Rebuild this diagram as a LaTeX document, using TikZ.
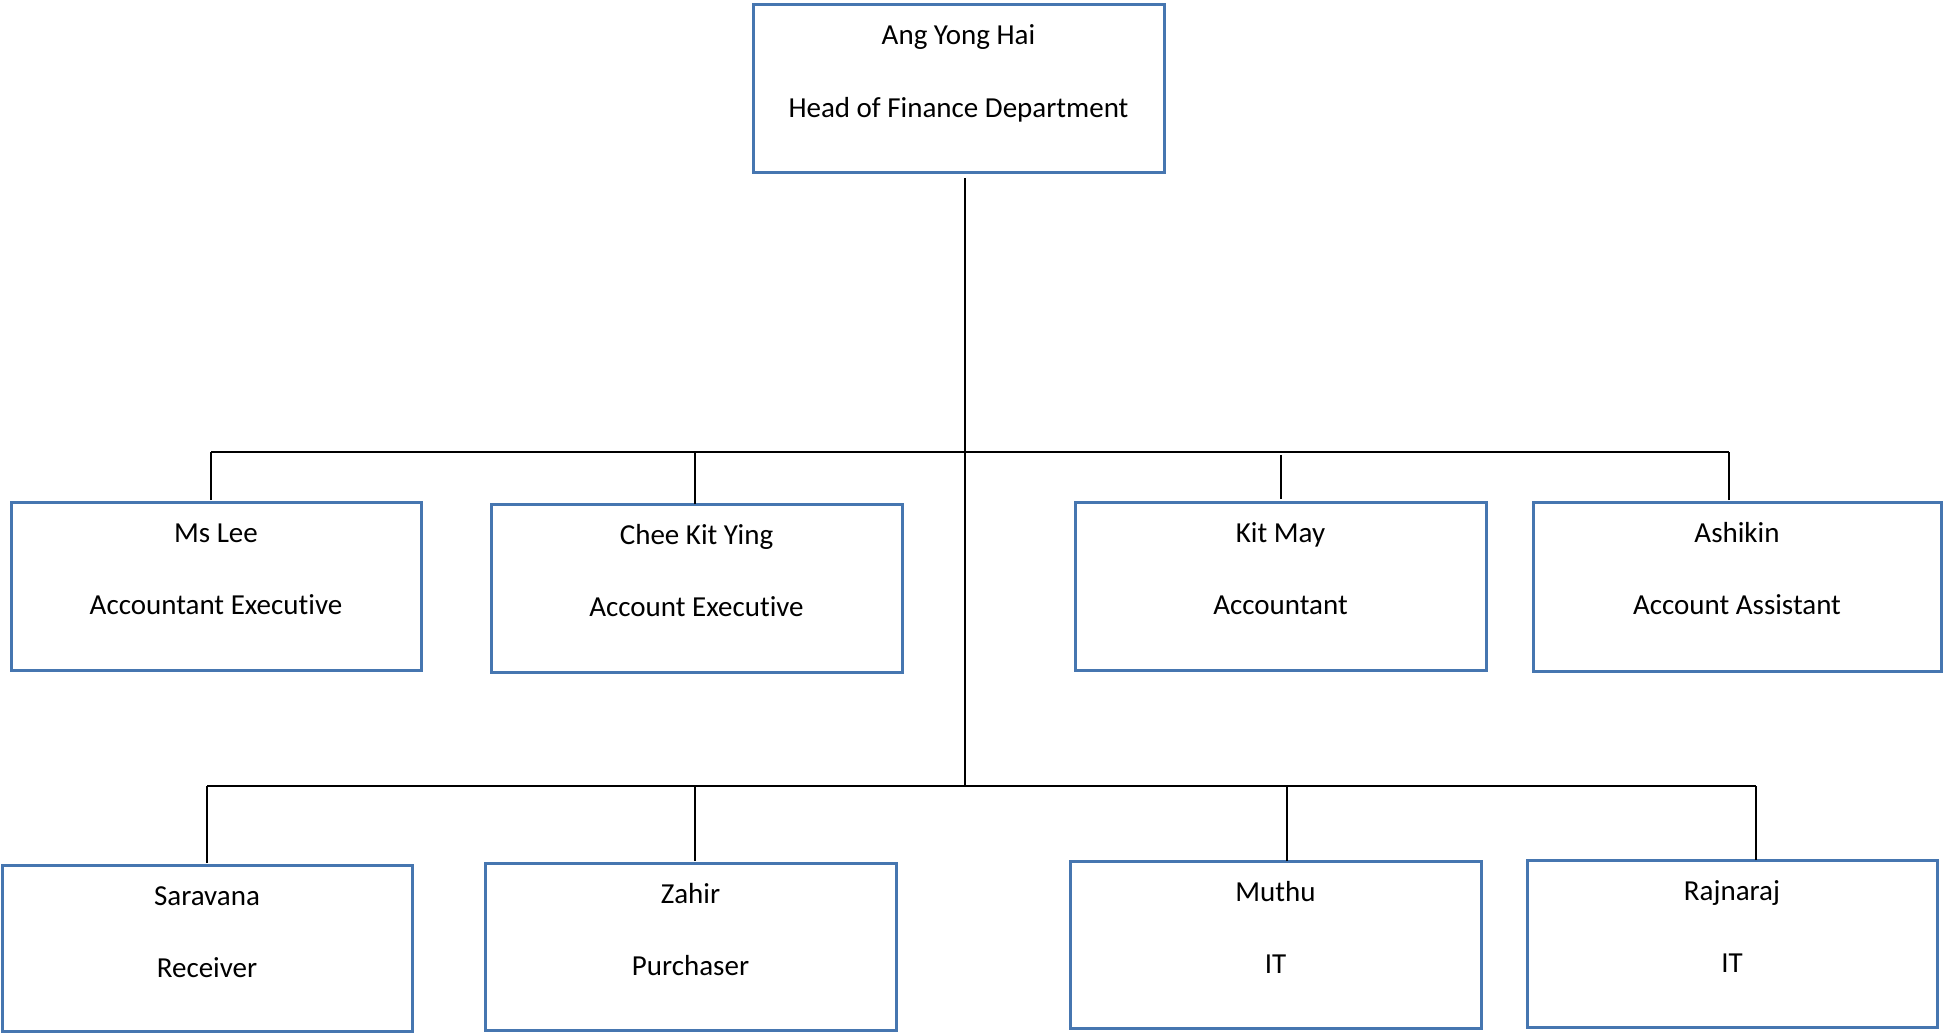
\documentclass[tikz,border=0pt]{standalone}
\usepackage{fontspec}
\setmainfont{Carlito}[Ligatures={NoCommon,NoContextual},Contextuals=NoAlternate]
\definecolor{boxblue}{RGB}{70,118,176}
\newcommand\orgunit[7]{%
  \node[unitbox, minimum width=#4, minimum height=#5] (#1) at (#2,#3) {};
  \node[unittext, anchor=base] (#1-a) at ([yshift=-40]#1.north) {#6};
  \node[unittext, anchor=base] (#1-b) at ([yshift=-112]#1.north) {#7};
}
\begin{document}
\begin{tikzpicture}[x=1pt, y=-1pt,
  unitbox/.style={draw=boxblue, line width=3pt, rectangle, inner sep=0pt, outer sep=0pt, fill=white},
  unittext/.style={inner sep=0pt, outer sep=0pt, font=\fontsize{29}{35}\selectfont, text=black},
  link/.style={draw=black, line width=1.6pt}]
\useasboundingbox (0,0) rectangle (1943,1033);
\fill[white] (0,0) rectangle (1943,1033);

\orgunit{top}{958.5}{88.5}{411}{167}{Ang Yong Hai}{Head of Finance Department}
\orgunit{lee}{216}{586}{410}{168}{Ms Lee}{Accountant Executive}
\orgunit{chee}{696.5}{588}{411}{168}{Chee Kit Ying}{Account Executive}
\orgunit{kit}{1280.5}{586}{411}{168}{Kit May}{Accountant}
\orgunit{ash}{1737}{586.5}{408}{169}{Ashikin}{Account Assistant}
\orgunit{sara}{207}{948}{410}{166}{Saravana}{Receiver}
\orgunit{zahir}{690.5}{946.5}{411}{167}{Zahir}{Purchaser}
\orgunit{muthu}{1275.5}{944.5}{411}{167}{Muthu}{IT}
\orgunit{raj}{1732}{943.5}{410}{167}{Rajnaraj}{IT}

% junctions
\coordinate (j1) at (965,452);
\coordinate (j2) at (965,786);
\coordinate (topout) at (965,178);

% trunk
\draw[link] (topout) -- (j2);

% level 1 bar and drops
\coordinate (leeup) at (211,500);
\coordinate (ashup) at (1729,500);
\coordinate (cheeup) at (695,504);
\coordinate (kitup) at (1281,499);
\draw[link] (leeup |- j1) -- (ashup |- j1);
\draw[link] (leeup) -- (leeup |- j1);
\draw[link] (cheeup) -- (cheeup |- j1);
\draw[link] (kitup) -- ([yshift=-3]kitup |- j1);
\draw[link] (ashup) -- (ashup |- j1);

% level 2 bar and drops
\coordinate (saraup) at (207,863);
\coordinate (zahirup) at (695,861);
\coordinate (muthuup) at (1287,861);
\coordinate (rajup) at (1756,860);
\draw[link] (saraup |- j2) -- (rajup |- j2);
\draw[link] (saraup) -- (saraup |- j2);
\draw[link] (zahirup) -- (zahirup |- j2);
\draw[link] (muthuup) -- (muthuup |- j2);
\draw[link] (rajup) -- (rajup |- j2);
\end{tikzpicture}
\end{document}
